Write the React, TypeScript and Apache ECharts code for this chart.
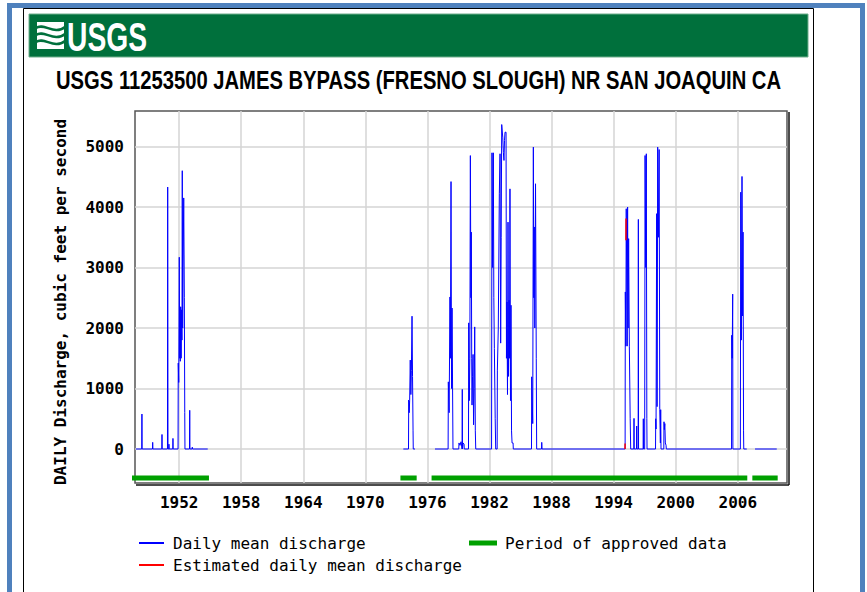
import React, { useEffect, useRef } from 'react';
import * as echarts from 'echarts';

const TITLE = 'USGS 11253500 JAMES BYPASS (FRESNO SLOUGH) NR SAN JOAQUIN CA';
const LOGO_TEXT = 'USGS';
const Y_AXIS_TITLE = 'DAILY Discharge, cubic feet per second';
const LEGEND_DAILY = 'Daily mean discharge';
const LEGEND_ESTIMATED = 'Estimated daily mean discharge';
const LEGEND_APPROVED = 'Period of approved data';

const X_TICK_YEARS = [1952, 1958, 1964, 1970, 1976, 1982, 1988, 1994, 2000, 2006];
const Y_TICK_VALUES = [0, 1000, 2000, 3000, 4000, 5000];

// [decimal year, cubic feet per second]; null breaks the record
const dailyMean: [number, number | null][] = [
  [1947.82, 0], [1948.38, 0], [1948.40, 578], [1948.42, 0],
  [1949.42, 0], [1949.44, 110], [1949.46, 0],
  [1950.32, 0], [1950.34, 240], [1950.36, 0],
  [1950.87, 0], [1950.89, 4330], [1950.92, 0],
  [1951.00, 0], [1951.01, 80], [1951.03, 0],
  [1951.38, 0], [1951.40, 175], [1951.42, 0],
  [1951.89, 0], [1951.91, 1420], [1951.96, 1100], [1952.01, 3170], [1952.05, 1500], [1952.08, 2350],
  [1952.11, 1450], [1952.15, 2350], [1952.19, 1500], [1952.23, 2300], [1952.27, 1800], [1952.30, 4600],
  [1952.34, 2000], [1952.38, 3000], [1952.44, 4150], [1952.50, 2500], [1952.54, 600], [1952.56, 0],
  [1953.00, 0], [1953.02, 640], [1953.04, 0],
  [1953.25, 0], [1953.27, 30], [1953.29, 0],
  [1954.76, 0], [1954.77, null],
  [1973.67, 0], [1974.17, 0], [1974.19, 810], [1974.24, 600], [1974.28, 800], [1974.34, 1470],
  [1974.40, 900], [1974.45, 1300], [1974.51, 2195], [1974.56, 1200], [1974.61, 300], [1974.63, 0],
  [1974.80, 0], [1974.81, null],
  [1976.73, 0], [1978.00, 0], [1978.02, 1110], [1978.10, 600], [1978.18, 2513], [1978.22, 1500],
  [1978.28, 4420], [1978.33, 1000], [1978.38, 2330], [1978.44, 2330], [1978.47, 0],
  [1979.03, 0], [1979.05, 100], [1979.15, 60], [1979.25, 120], [1979.35, 0], [1979.37, 985],
  [1979.39, 0], [1979.45, 100], [1979.54, 80], [1979.56, 0],
  [1979.97, 0], [1979.99, 2085], [1980.05, 800], [1980.10, 1500], [1980.15, 4850], [1980.20, 2500],
  [1980.24, 3585], [1980.28, 1500], [1980.31, 726], [1980.36, 1200], [1980.41, 1563], [1980.46, 400],
  [1980.52, 1000], [1980.57, 2018], [1980.63, 300], [1980.67, 0],
  [1982.20, 0], [1982.24, 4896], [1982.30, 3000], [1982.37, 4896], [1982.42, 2500], [1982.47, 1662],
  [1982.55, 500], [1982.60, 0],
  [1982.74, 0], [1982.76, 1304], [1982.85, 2000], [1982.95, 4220], [1983.02, 4880], [1983.08, 1750],
  [1983.13, 3500], [1983.18, 5363], [1983.28, 5155], [1983.34, 4900], [1983.40, 4770], [1983.45, 5100],
  [1983.50, 5236], [1983.60, 5236], [1983.64, 1500], [1983.69, 2430], [1983.74, 900], [1983.79, 3750],
  [1983.84, 1200], [1983.89, 2460], [1983.94, 1500], [1983.98, 4300], [1984.03, 800], [1984.08, 2376],
  [1984.13, 300], [1984.18, 100], [1984.28, 100], [1984.30, 0],
  [1986.06, 0], [1986.08, 1193], [1986.18, 420], [1986.24, 4990], [1986.28, 2500], [1986.33, 3670],
  [1986.38, 2000], [1986.45, 4384], [1986.52, 1500], [1986.56, 0],
  [1987.03, 0], [1987.05, 110], [1987.08, 0],
  [1995.11, 0], [1995.13, 2596], [1995.18, 1700], [1995.22, 3972], [1995.27, 3972], [1995.31, 1700],
  [1995.35, 4000], [1995.40, 2000], [1995.45, 3477], [1995.52, 1700], [1995.60, 500], [1995.65, 0],
  [1995.95, 0], [1995.97, 506], [1995.99, 0],
  [1996.21, 0], [1996.23, 380], [1996.25, 0],
  [1996.37, 0], [1996.39, 3795], [1996.41, 0],
  [1996.85, 0], [1996.87, 500], [1996.89, 0],
  [1997.00, 0], [1997.04, 4851], [1997.10, 3000], [1997.16, 4880], [1997.21, 500], [1997.23, 0],
  [1998.05, 0], [1998.07, 500], [1998.10, 330], [1998.16, 3890], [1998.20, 700], [1998.26, 4990],
  [1998.33, 3500], [1998.40, 4950], [1998.46, 650], [1998.52, 100], [1998.55, 650], [1998.58, 0],
  [1998.85, 0], [1998.87, 450], [1998.90, 320], [1998.95, 420], [1999.00, 100], [1999.07, 60], [1999.09, 0],
  [2005.40, 0], [2005.42, 1880], [2005.46, 1500], [2005.51, 2560], [2005.53, 0],
  [2006.25, 0], [2006.29, 4245], [2006.35, 1800], [2006.41, 4505], [2006.46, 2200], [2006.51, 3585],
  [2006.56, 300], [2006.58, 0], [2006.87, 0], [2006.88, null],
  [2007.67, 0], [2009.77, 0],
];

// estimated days (only a few in early 1995)
const estimatedMean: [number, number | null][] = [
  [1995.10, 0], [1995.11, 90], [1995.12, null],
  [1995.19, 3450], [1995.20, 3810], [1995.21, null],
];

const approvedPeriods: [number, number][] = [
  [1947.44, 1954.88],
  [1973.39, 1974.96],
  [1976.40, 2006.92],
  [2007.41, 2009.86],
];
const APPROVED_LEVEL = -480;

const X_MIN = 1947.73;
const X_MAX = 2010.76;
const Y_MIN = -562;
const Y_MAX = 5587;

const MONO = "'DejaVu Sans Mono', monospace";

function measure(text: string, font: string): number {
  const ctx = document.createElement('canvas').getContext('2d');
  if (!ctx) return 0;
  ctx.font = font;
  return ctx.measureText(text).width;
}

export default function App() {
  const ref = useRef<HTMLDivElement>(null);
  useEffect(() => {
    if (!ref.current) return;
    document.body.style.margin = '0';
    const chart = echarts.init(ref.current, undefined, { renderer: 'svg' });

    const titleFont = "bold 25px 'Liberation Sans'";
    const titleScale = 726 / (measure(TITLE, titleFont) || 726);
    const logoFont = "bold 40px 'Liberation Sans'";
    const logoScale = 80 / (measure(LOGO_TEXT, logoFont) || 80);

    const approvedData: [number, number | null][] = approvedPeriods.flatMap(([a, b]) => [
      [a, APPROVED_LEVEL], [b, APPROVED_LEVEL], [b + 0.01, null],
    ] as [number, number | null][]);

    const option: any = {
      animation: false,
      backgroundColor: '#ffffff',
      grid: {
        left: 135, top: 111, width: 652, height: 372,
        show: true, borderColor: '#555555', borderWidth: 1.5, backgroundColor: '#ffffff',
        containLabel: false, outerBoundsMode: 'none',
      },
      xAxis: {
        type: 'value', min: X_MIN, max: X_MAX,
        axisLine: { show: false },
        axisTick: { show: false, customValues: X_TICK_YEARS },
        axisLabel: {
          customValues: X_TICK_YEARS, margin: 11, color: '#000',
          fontFamily: MONO, fontWeight: 'bold', fontSize: 16,
          formatter: (v: number) => String(Math.round(v)),
        },
        splitLine: { show: true, lineStyle: { color: '#d4d4d4', width: 1.5 } },
      },
      yAxis: {
        type: 'value', min: Y_MIN, max: Y_MAX,
        axisLine: { show: false },
        axisTick: { show: false, customValues: Y_TICK_VALUES },
        axisLabel: {
          customValues: Y_TICK_VALUES, margin: 11, color: '#000',
          fontFamily: MONO, fontWeight: 'bold', fontSize: 16,
          formatter: (v: number) => String(Math.round(v)),
        },
        splitLine: { show: true, lineStyle: { color: '#d4d4d4', width: 1.5 } },
      },
      legend: [
        {
          left: 139, top: 535, orient: 'vertical', itemGap: 6,
          icon: 'rect', itemWidth: 25, itemHeight: 2, selectedMode: false, padding: 0,
          data: [LEGEND_DAILY, LEGEND_ESTIMATED],
          textStyle: { fontFamily: MONO, fontSize: 16, color: '#000', lineHeight: 16, padding: [0, 0, 0, 4] },
        },
        {
          left: 469, top: 535, orient: 'vertical',
          icon: 'rect', itemWidth: 28, itemHeight: 5, selectedMode: false, padding: 0,
          data: [LEGEND_APPROVED],
          textStyle: { fontFamily: MONO, fontSize: 16, color: '#000', lineHeight: 16, padding: [0, 0, 0, 3] },
        },
      ],
      series: [
        {
          name: LEGEND_APPROVED, type: 'line', data: approvedData, showSymbol: false, symbol: 'none',
          clip: false, connectNulls: false,
          lineStyle: { color: '#00a000', width: 5, cap: 'butt' }, itemStyle: { color: '#00a000' }, z: 2,
        },
        {
          name: LEGEND_DAILY, type: 'line', data: dailyMean, showSymbol: false, symbol: 'none',
          connectNulls: false,
          lineStyle: { color: '#0000ff', width: 1 }, itemStyle: { color: '#0000ff' }, z: 3,
        },
        {
          name: LEGEND_ESTIMATED, type: 'line', data: estimatedMean, showSymbol: false, symbol: 'none',
          connectNulls: false,
          lineStyle: { color: '#ff0000', width: 1.5 }, itemStyle: { color: '#ff0000' }, z: 4,
        },
      ],
      graphic: [
        { type: 'rect', z: 100, silent: true, shape: { x: 9.5, y: 5.5, width: 853, height: 700 },
          style: { fill: 'none', stroke: '#4f81bd', lineWidth: 5 } },
        { type: 'rect', z: 100, silent: true, shape: { x: 23.5, y: 8.5, width: 790, height: 700 },
          style: { fill: 'none', stroke: '#000000', lineWidth: 1 } },
        { type: 'rect', z: 100, silent: true, shape: { x: 29, y: 14, width: 779, height: 43 },
          style: { fill: '#00703c', stroke: '#6fae8c', lineWidth: 1 } },
        { type: 'rect', z: 101, silent: true, shape: { x: 37, y: 22, width: 27, height: 27 },
          style: { fill: '#ffffff' } },
        { type: 'bezierCurve', z: 102, silent: true,
          shape: { x1: 36, y1: 28, cpx1: 44, cpy1: 22, cpx2: 54, cpy2: 36, x2: 65, y2: 27 },
          style: { stroke: '#00703c', lineWidth: 2.5, fill: 'none' } },
        { type: 'bezierCurve', z: 102, silent: true,
          shape: { x1: 36, y1: 35, cpx1: 44, cpy1: 29, cpx2: 54, cpy2: 43, x2: 65, y2: 34 },
          style: { stroke: '#00703c', lineWidth: 2.5, fill: 'none' } },
        { type: 'bezierCurve', z: 102, silent: true,
          shape: { x1: 36, y1: 42, cpx1: 44, cpy1: 36, cpx2: 54, cpy2: 50, x2: 65, y2: 41 },
          style: { stroke: '#00703c', lineWidth: 2.5, fill: 'none' } },
        { type: 'text', z: 102, silent: true, x: 67, y: 37, scaleX: logoScale,
          style: { text: LOGO_TEXT, font: logoFont, fill: '#ffffff', align: 'left', verticalAlign: 'middle' } },
        { type: 'text', z: 102, silent: true, x: 56, y: 80, scaleX: titleScale,
          style: { text: TITLE, font: titleFont, fill: '#000000', align: 'left', verticalAlign: 'middle' } },
        { type: 'text', z: 102, silent: true, x: 60, y: 302, rotation: Math.PI / 2,
          style: { text: Y_AXIS_TITLE, font: `bold 16px ${MONO}`, fill: '#000000', align: 'center', verticalAlign: 'middle' } },
        { type: 'line', z: 102, silent: true, shape: { x1: 789, y1: 112, x2: 789, y2: 485 },
          style: { stroke: '#111111', lineWidth: 1.5 } },
        { type: 'line', z: 102, silent: true, shape: { x1: 136, y1: 485, x2: 789, y2: 485 },
          style: { stroke: '#111111', lineWidth: 1.5 } },
      ],
    };
    chart.setOption(option);
    return () => chart.dispose();
  }, []);
  return <div ref={ref} style={{ position: 'fixed', left: 0, top: 0, width: 867, height: 592, background: '#fff' }} />;
}
